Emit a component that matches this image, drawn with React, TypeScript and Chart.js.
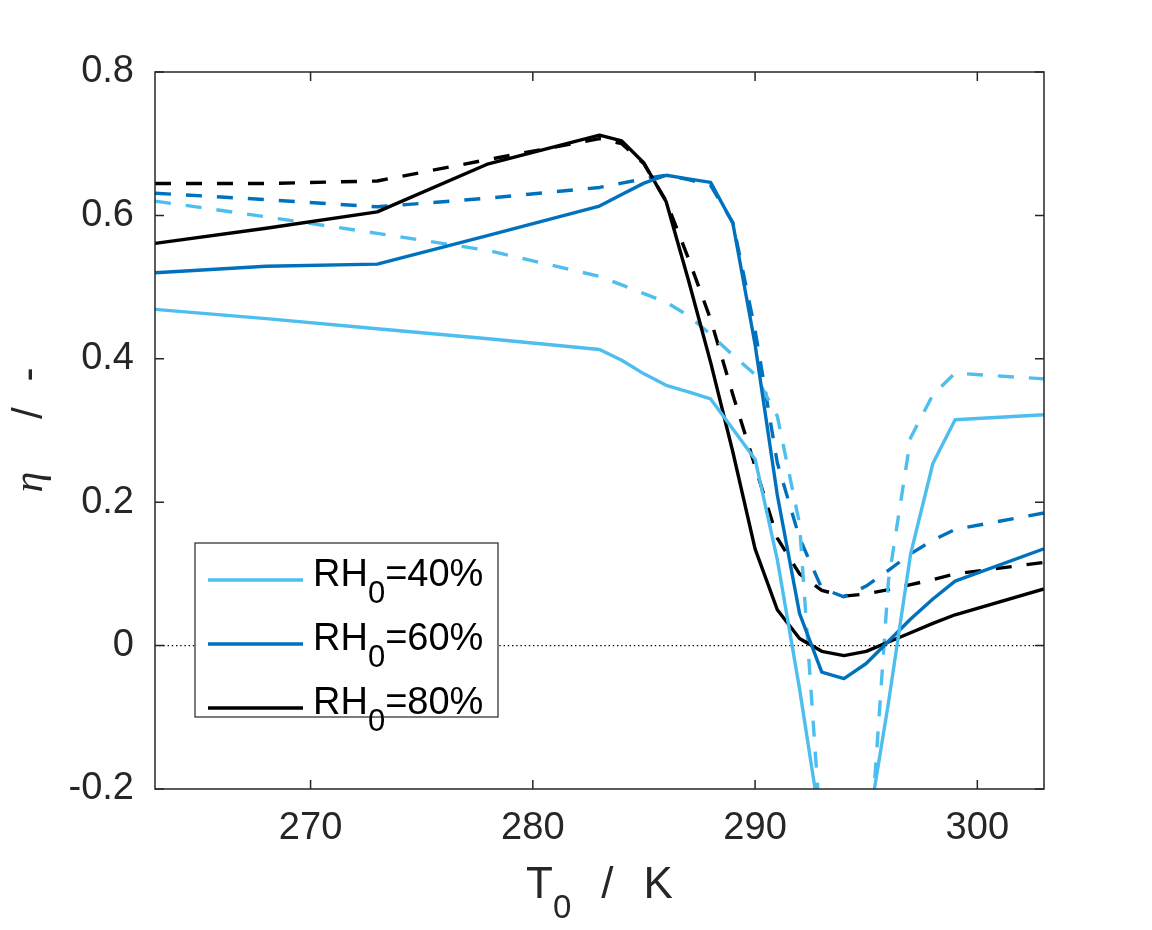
import { useEffect, useRef } from "react";
import { Chart, registerables } from "chart.js";

Chart.register(...registerables);

// inlet temperature T0 / K
const temps = [263, 268, 273, 278, 283, 284, 285, 286, 287, 288, 289, 290, 291, 292, 293, 294, 295, 296, 297, 298, 299, 303];

// efficiency eta, solid lines
const rh40Solid = [0.469, 0.456, 0.442, 0.428, 0.413, 0.398, 0.379, 0.363, 0.354, 0.344, 0.302, 0.26, 0.12, -0.06, -0.26, -0.4, -0.27, -0.08, 0.128, 0.254, 0.315, 0.322];
const rh60Solid = [0.52, 0.529, 0.532, 0.572, 0.613, 0.629, 0.645, 0.656, 0.651, 0.646, 0.589, 0.42, 0.21, 0.045, -0.037, -0.046, -0.025, 0.006, 0.037, 0.065, 0.09, 0.135];
const rh80Solid = [0.561, 0.582, 0.605, 0.672, 0.712, 0.704, 0.673, 0.619, 0.51, 0.395, 0.27, 0.135, 0.05, 0.01, -0.008, -0.014, -0.008, 0.005, 0.018, 0.031, 0.043, 0.079];

// efficiency eta, dashed lines
const rh40Dashed = [0.62, 0.598, 0.575, 0.551, 0.515, 0.503, 0.491, 0.479, 0.46, 0.434, 0.405, 0.378, 0.32, 0.17, -0.28, -0.42, -0.36, 0.09, 0.29, 0.35, 0.38, 0.372];
const rh60Dashed = [0.631, 0.622, 0.612, 0.624, 0.639, 0.645, 0.651, 0.656, 0.65, 0.642, 0.59, 0.44, 0.255, 0.15, 0.08, 0.068, 0.083, 0.105, 0.128, 0.147, 0.162, 0.185];
const rh80Dashed = [0.6445, 0.6445, 0.648, 0.678, 0.707, 0.7, 0.672, 0.62, 0.54, 0.455, 0.35, 0.25, 0.15, 0.1, 0.077, 0.069, 0.072, 0.078, 0.085, 0.092, 0.1, 0.116];

const xTicks = [270, 280, 290, 300];
const yTicks = [-0.2, 0, 0.2, 0.4, 0.6, 0.8];
const xRange = [263, 303];
const yRange = [-0.2, 0.8];
const legendLabels = ["=40%", "=60%", "=80%"];

const COLORS = ["#4DBEEE", "#0072BD", "#000000"];
const AXIS = "#262626";
const SANS = '"Liberation Sans", Arial, Helvetica, sans-serif';

function drawSubText(ctx: CanvasRenderingContext2D, x: number, y: number, pre: string, sub: string, post: string, size: number, subSize: number, drop: number) {
  ctx.font = `${size}px ${SANS}`;
  ctx.fillText(pre, x, y);
  x += ctx.measureText(pre).width;
  ctx.font = `${subSize}px ${SANS}`;
  ctx.fillText(sub, x, y + drop);
  x += ctx.measureText(sub).width;
  ctx.font = `${size}px ${SANS}`;
  ctx.fillText(post, x, y);
  return x + ctx.measureText(post).width;
}

const decorPlugin = {
  id: "decor",
  afterDatasetsDraw(chart: any) {
    const { ctx, chartArea: a, scales } = chart;
    const sx = scales.x;
    const sy = scales.y;
    ctx.save();
    // box + inward ticks
    ctx.strokeStyle = AXIS;
    ctx.lineWidth = 1.5;
    ctx.strokeRect(a.left, a.top, a.right - a.left, a.bottom - a.top);
    ctx.beginPath();
    xTicks.forEach((v) => {
      const px = sx.getPixelForValue(v);
      ctx.moveTo(px, a.bottom);
      ctx.lineTo(px, a.bottom - 9);
      ctx.moveTo(px, a.top);
      ctx.lineTo(px, a.top + 9);
    });
    yTicks.forEach((v) => {
      const py = sy.getPixelForValue(v);
      ctx.moveTo(a.left, py);
      ctx.lineTo(a.left + 9, py);
      ctx.moveTo(a.right, py);
      ctx.lineTo(a.right - 9, py);
    });
    ctx.stroke();

    // legend
    const lx = a.left + 40;
    const ly = a.top + 471;
    ctx.fillStyle = "#ffffff";
    ctx.fillRect(lx, ly, 303, 174);
    ctx.lineWidth = 1.2;
    ctx.strokeStyle = AXIS;
    ctx.strokeRect(lx, ly, 303, 174);
    legendLabels.forEach((lab, i) => {
      const rowY = ly + 37 + i * 64;
      ctx.strokeStyle = COLORS[i];
      ctx.lineWidth = 3.4;
      ctx.beginPath();
      ctx.moveTo(lx + 13, rowY);
      ctx.lineTo(lx + 108, rowY);
      ctx.stroke();
      ctx.fillStyle = "#000000";
      ctx.textBaseline = "alphabetic";
      ctx.textAlign = "left";
      drawSubText(ctx, lx + 118, rowY + 6, "RH", "0", lab, 38, 31, 17);
    });
    ctx.restore();
  },
  afterDraw(chart: any) {
    const { ctx, chartArea: a } = chart;
    ctx.save();
    ctx.fillStyle = AXIS;
    ctx.textBaseline = "alphabetic";
    ctx.textAlign = "left";

    // x title: T0 / K
    const size = 44;
    const gap = 30;
    ctx.font = `${size}px ${SANS}`;
    const wT = ctx.measureText("T").width;
    const wSlash = ctx.measureText("/").width;
    const wK = ctx.measureText("K").width;
    ctx.font = `33px ${SANS}`;
    const w0 = ctx.measureText("0").width;
    const total = wT + w0 + gap + wSlash + gap + wK;
    let x = (a.left + a.right) / 2 - total / 2;
    const base = a.bottom + 109;
    ctx.font = `${size}px ${SANS}`;
    ctx.fillText("T", x, base);
    x += wT;
    ctx.font = `33px ${SANS}`;
    ctx.fillText("0", x, base + 20);
    x += w0 + gap;
    ctx.font = `${size}px ${SANS}`;
    ctx.fillText("/", x, base);
    x += wSlash + gap;
    ctx.fillText("K", x, base);

    // y title: eta / -
    const cy = (a.top + a.bottom) / 2;
    ctx.translate(42, cy + 62);
    ctx.rotate(-Math.PI / 2);
    ctx.font = `italic 42px "Liberation Serif", "DejaVu Serif", serif`;
    ctx.fillText("\u03b7", 0, 0);
    ctx.font = `42px ${SANS}`;
    ctx.fillText("/", 73.5, 0);
    ctx.fillText("-", 111, 0);
    ctx.restore();
  },
};

function series(values: number[]) {
  return temps.map((t, i) => ({ x: t, y: values[i] }));
}

export default function App() {
  const canvasRef = useRef<HTMLCanvasElement>(null);
  const chartRef = useRef<Chart | null>(null);

  useEffect(() => {
    document.body.style.margin = "0";
    if (!canvasRef.current) return;
    if (chartRef.current) chartRef.current.destroy();
    const ctx = canvasRef.current.getContext("2d");
    if (!ctx) return;

    const line = (values: number[], color: string, dashed: boolean) => ({
      data: series(values),
      borderColor: color,
      backgroundColor: color,
      borderWidth: 3.4,
      borderDash: dashed ? [16, 15] : [],
      pointRadius: 0,
      tension: 0,
      borderJoinStyle: "round" as const,
      clip: 0,
      fill: false,
    });

    chartRef.current = new Chart(ctx, {
      type: "line",
      data: {
        datasets: [
          line(rh40Solid, COLORS[0], false),
          line(rh60Solid, COLORS[1], false),
          line(rh80Solid, COLORS[2], false),
          line(rh40Dashed, COLORS[0], true),
          line(rh60Dashed, COLORS[1], true),
          line(rh80Dashed, COLORS[2], true),
          {
            data: [
              { x: xRange[0], y: 0 },
              { x: xRange[1], y: 0 },
            ],
            borderColor: "#000000",
            borderWidth: 1.2,
            borderDash: [1.4, 2.8],
            pointRadius: 0,
            clip: 0,
            order: 10,
            fill: false,
          } as any,
        ],
      },
      options: {
        animation: false,
        responsive: false,
        devicePixelRatio: 1,
        layout: { padding: { top: 72, right: 108, left: 0, bottom: 0 } },
        plugins: { legend: { display: false }, tooltip: { enabled: false } },
        scales: {
          x: {
            type: "linear",
            min: xRange[0],
            max: xRange[1],
            grid: { display: false, drawTicks: false },
            border: { display: false },
            afterBuildTicks: (scale: any) => {
              scale.ticks = xTicks.map((value) => ({ value }));
            },
            afterFit: (scale: any) => {
              scale.height = 141;
            },
            ticks: {
              font: { family: SANS, size: 38 },
              color: AXIS,
              padding: 17,
              maxRotation: 0,
              callback: (v: any) => String(v),
            },
          },
          y: {
            type: "linear",
            min: yRange[0],
            max: yRange[1],
            grid: { display: false, drawTicks: false },
            border: { display: false },
            afterBuildTicks: (scale: any) => {
              scale.ticks = yTicks.map((value) => ({ value }));
            },
            afterFit: (scale: any) => {
              scale.width = 155;
            },
            ticks: {
              font: { family: SANS, size: 38 },
              color: AXIS,
              padding: 21,
              callback: (v: any) => (Number(v) === 0 ? "0" : Number(v).toFixed(1)),
            },
          },
        },
      },
      plugins: [decorPlugin],
    });

    return () => {
      if (chartRef.current) {
        chartRef.current.destroy();
        chartRef.current = null;
      }
    };
  }, []);

  return (
    <div style={{ width: 1152, height: 930, background: "#ffffff" }}>
      <canvas ref={canvasRef} width={1152} height={930} style={{ display: "block" }}></canvas>
    </div>
  );
}
